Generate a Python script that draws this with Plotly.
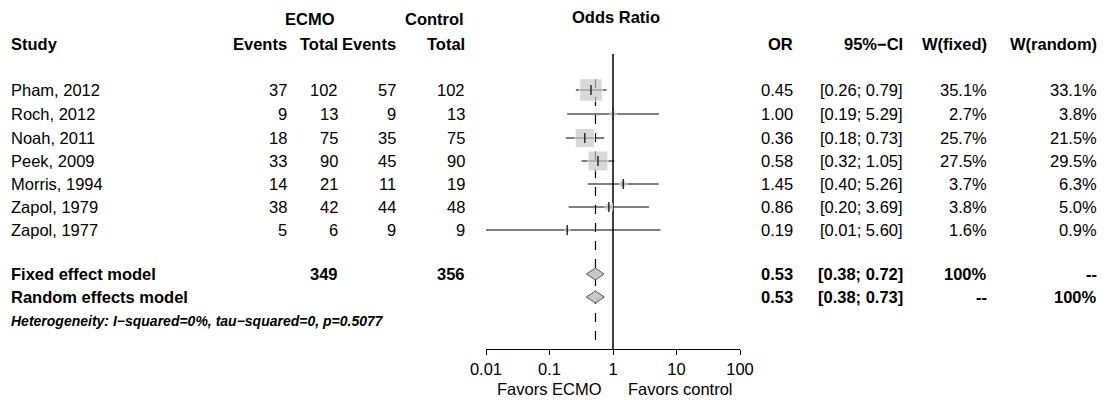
import plotly.graph_objects as go

studies = ["Pham, 2012", "Roch, 2012", "Noah, 2011", "Peek, 2009", "Morris, 1994", "Zapol, 1979", "Zapol, 1977"]
ecmo_events = [37, 9, 18, 33, 14, 38, 5]
ecmo_total = [102, 13, 75, 90, 21, 42, 6]
ctrl_events = [57, 9, 35, 45, 11, 44, 9]
ctrl_total = [102, 13, 75, 90, 19, 48, 9]
odds = [0.45, 1.00, 0.36, 0.58, 1.45, 0.86, 0.19]
ci_low = [0.26, 0.19, 0.18, 0.32, 0.40, 0.20, 0.01]
ci_high = [0.79, 5.29, 0.73, 1.05, 5.26, 3.69, 5.60]
w_fixed = [35.1, 2.7, 25.7, 27.5, 3.7, 3.8, 1.6]
w_random = [33.1, 3.8, 21.5, 29.5, 6.3, 5.0, 0.9]

pooled_names = ["Fixed effect model", "Random effects model"]
pooled_or = [0.53, 0.53]
pooled_low = [0.38, 0.38]
pooled_high = [0.72, 0.73]
pooled_wf = ["100%", "--"]
pooled_wr = ["--", "100%"]
sum_ecmo = 349
sum_ctrl = 356

# row positions (pixel-like units from top)
row_y = [91, 115, 139, 162, 185, 208, 231]
pooled_y = [275, 298]

FONT = "Liberation Sans, Arial, sans-serif"
FS = 16.5
W = 1107
H = 400
OFF = 9  # page offsets the figure by this much

fig = go.Figure()

# reference lines
fig.add_trace(go.Scatter(x=[1, 1], y=[55, 350], mode="lines", line=dict(color="black", width=1.5), hoverinfo="skip"))
fig.add_trace(go.Scatter(x=[pooled_or[0]] * 2, y=[80, 350], mode="lines",
                         line=dict(color="black", width=1.2, dash="dash"), hoverinfo="skip"))

for i in range(len(studies)):
    fig.add_trace(go.Scatter(x=[ci_low[i], ci_high[i]], y=[row_y[i]] * 2, mode="lines",
                             line=dict(color="black", width=1), hoverinfo="skip"))
fig.add_trace(go.Scatter(x=odds, y=row_y, mode="markers",
                         marker=dict(symbol="square", color="#c8c8c8",
                                     size=[3.8 * w ** 0.5 for w in w_fixed]), hoverinfo="skip"))
fig.add_trace(go.Scatter(x=odds, y=row_y, mode="markers",
                         marker=dict(symbol="line-ns", size=7, line=dict(color="black", width=1.2)),
                         hoverinfo="skip"))

for est, lo, hi, y in zip(pooled_or, pooled_low, pooled_high, pooled_y):
    fig.add_trace(go.Scatter(x=[lo, est, hi, est, lo], y=[y, y - 6, y, y + 6, y], mode="lines",
                             fill="toself", fillcolor="#c8c8c8", line=dict(color="#555", width=1),
                             hoverinfo="skip"))

ann = []


def txt(x, y, s, anchor="right", bold=False, size=FS, italic=False):
    if bold:
        s = "<b>" + s + "</b>"
    if italic:
        s = "<i>" + s + "</i>"
    ann.append(dict(x=(x - OFF) / W, y=1 - (y - OFF) / H, xref="paper", yref="paper", text=s,
                    showarrow=False, xanchor=anchor, yanchor="middle",
                    font=dict(family=FONT, size=size, color="black")))


# headers
txt(311, 20, "ECMO", "center", True)
txt(435, 20, "Control", "center", True)
txt(617, 18, "Odds Ratio", "center", True)
for x, s, a in [(10, "Study", "left"), (290, "Events", "right"), (341, "Total", "right"),
                (399, "Events", "right"), (468, "Total", "right"), (796, "OR", "right"),
                (906, "95%−CI", "right"), (990, "W(fixed)", "right"), (1100, "W(random)", "right")]:
    txt(x, 45, s, a, True)

for i, s in enumerate(studies):
    y = row_y[i]
    txt(10, y, s, "left")
    txt(290, y, str(ecmo_events[i]))
    txt(341, y, str(ecmo_total[i]))
    txt(399, y, str(ctrl_events[i]))
    txt(468, y, str(ctrl_total[i]))
    txt(796, y, f"{odds[i]:.2f}")
    txt(906, y, f"[{ci_low[i]:.2f}; {ci_high[i]:.2f}]")
    txt(990, y, f"{w_fixed[i]:.1f}%")
    txt(1100, y, f"{w_random[i]:.1f}%")

for j, name in enumerate(pooled_names):
    y = pooled_y[j]
    txt(10, y, name, "left", True)
    txt(796, y, f"{pooled_or[j]:.2f}", bold=True)
    txt(906, y, f"[{pooled_low[j]:.2f}; {pooled_high[j]:.2f}]", bold=True)
    txt(990, y, pooled_wf[j], bold=True)
    txt(1100, y, pooled_wr[j], bold=True)
txt(341, pooled_y[0], str(sum_ecmo), bold=True)
txt(468, pooled_y[0], str(sum_ctrl), bold=True)

txt(10, 322, "Heterogeneity: I−squared=0%, tau−squared=0, p=0.5077", "left", True, 14, True)
txt(605, 390, "Favors ECMO", "right")
txt(627, 390, "Favors control", "left")

fig.update_layout(
    width=W, height=H, showlegend=False,
    margin=dict(l=0, r=0, t=0, b=0, autoexpand=False),
    paper_bgcolor="white", plot_bgcolor="white",
    annotations=ann,
    xaxis=dict(type="log", range=[-2, 2], domain=[(487 - OFF) / W, (741 - OFF) / W], automargin=False,
               tickvals=[0.01, 0.1, 1, 10, 100], ticktext=["0.01", "0.1", "1", "10", "100"],
               showgrid=False, zeroline=False, showline=True, linecolor="black",
               ticks="outside", ticklen=5, tickcolor="black",
               tickfont=dict(family=FONT, size=FS, color="black")),
    yaxis=dict(range=[350, OFF], domain=[1 - (350 - OFF) / H, 1], visible=False, automargin=False),
)

fig.write_html("out.html")
